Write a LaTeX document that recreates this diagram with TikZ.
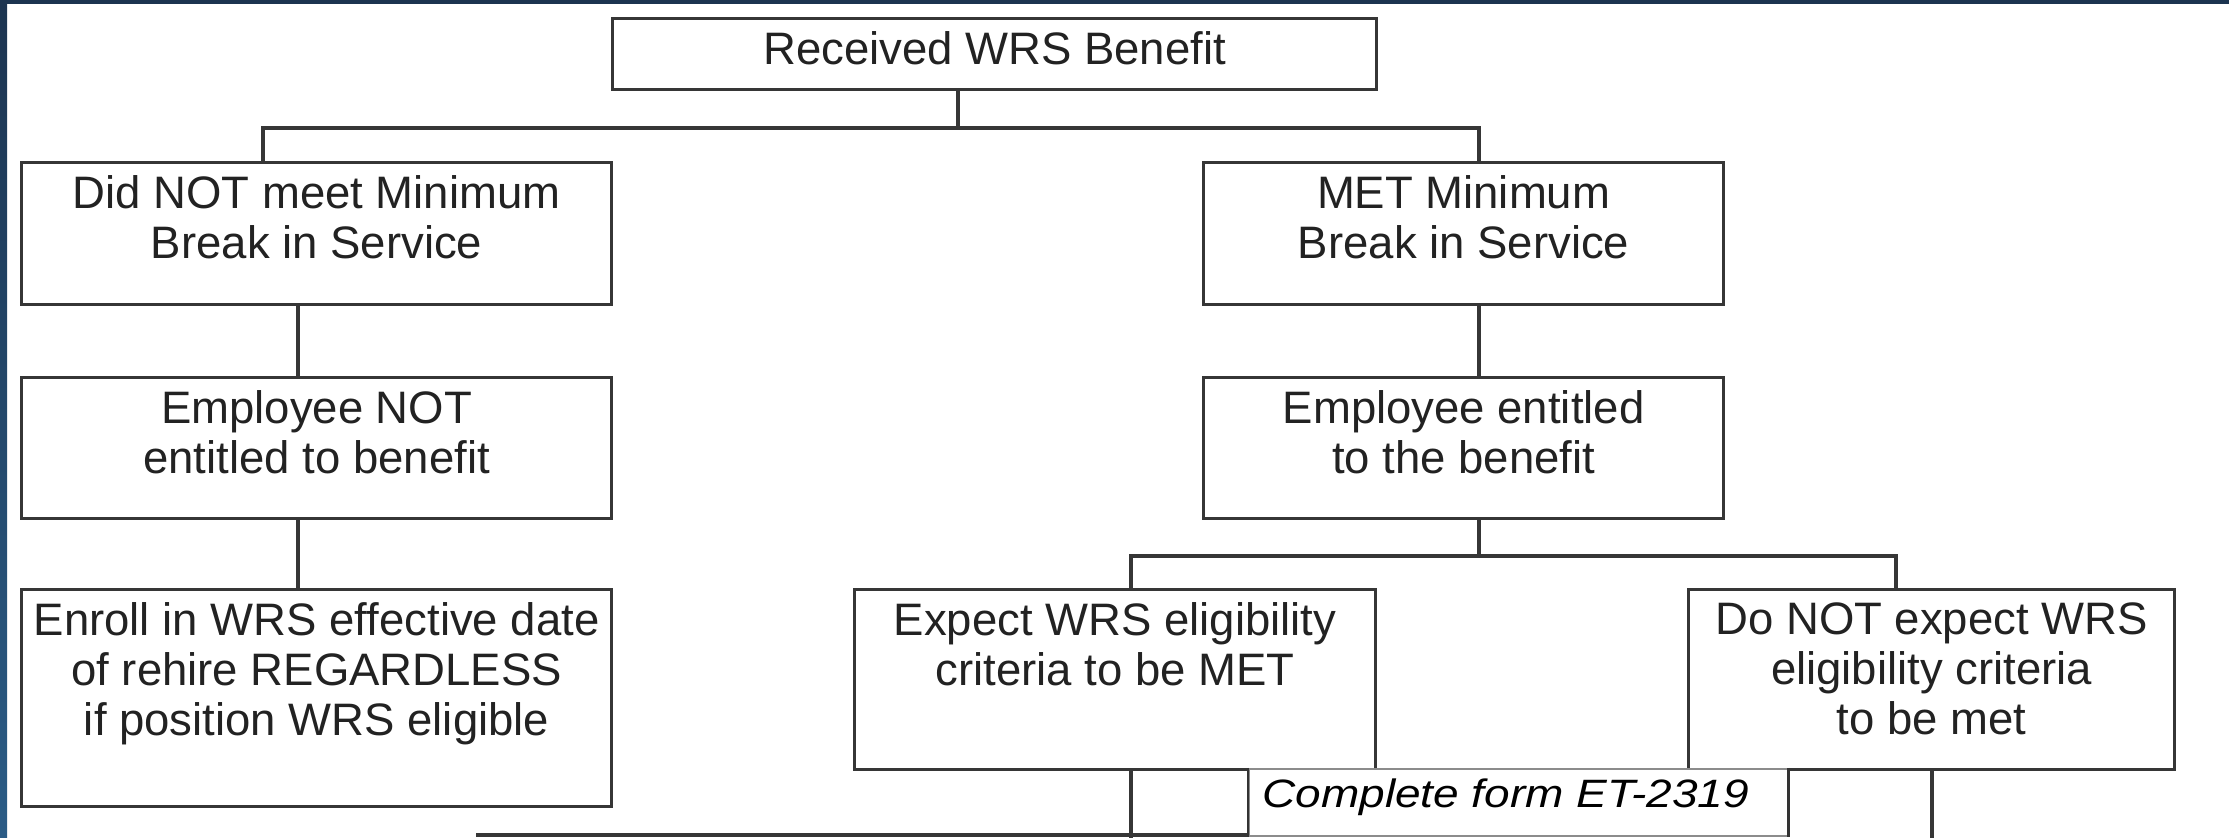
\documentclass[tikz,border=0pt]{standalone}
\usepackage{fontspec}
\setmainfont{Liberation Sans}
\definecolor{navy}{HTML}{1C3450}
\definecolor{navylight}{HTML}{2B5C86}
\definecolor{linec}{HTML}{363636}
\definecolor{txtc}{HTML}{222222}
\begin{document}
\begin{tikzpicture}[x=0.5pt,y=-0.5pt,
  boxst/.style={draw=linec, line width=1.6pt, fill=white, inner sep=0pt, anchor=north west, shape=rectangle},
  txt/.style={inner sep=0pt, align=center, anchor=north, text=txtc, font=\fontsize{22.75pt}{25pt}\selectfont},
  conn/.style={draw=linec, line width=1.6pt}]
\useasboundingbox (0,0) rectangle (2229,838);
\fill[white] (0,0) rectangle (2229,838);
\fill[navy] (0,0) rectangle (2229,4);
\shade[top color=navy, bottom color=navylight] (0,0) rectangle (7,838);

% boxes
\node[boxst, minimum width=382pt, minimum height=35.5pt] (top) at (611,17) {};
\node[boxst, minimum width=295pt, minimum height=71pt] (l1) at (20,161) {};
\node[boxst, minimum width=260pt, minimum height=71pt] (r1) at (1202,161) {};
\node[boxst, minimum width=295pt, minimum height=70.5pt] (l2) at (20,376) {};
\node[boxst, minimum width=260pt, minimum height=70.5pt] (r2) at (1202,376) {};
\node[boxst, minimum width=295pt, minimum height=108.5pt] (l3) at (20,588) {};
\node[boxst, minimum width=260.5pt, minimum height=90pt] (e) at (853,588) {};
\node[boxst, minimum width=243pt, minimum height=90pt] (d) at (1687,588) {};

% texts
\node[txt] (topt) at ([yshift=-7pt]top.north) {Received WRS Benefit};
\node[txt] (l1t) at ([yshift=-7pt]l1.north) {Did NOT meet Minimum\\Break in Service};
\node[txt] (r1t) at ([yshift=-7pt]r1.north) {MET Minimum\\Break in Service};
\node[txt] (l2t) at ([yshift=-7pt]l2.north) {Employee NOT\\entitled to benefit};
\node[txt] (r2t) at ([yshift=-7pt]r2.north) {Employee entitled\\to the benefit};
\node[txt] (l3t) at ([yshift=-7pt]l3.north) {Enroll in WRS effective date\\of rehire REGARDLESS\\if position WRS eligible};
\node[txt] (et) at ([yshift=-7pt]e.north) {Expect WRS eligibility\\criteria to be MET};
\node[txt] (dt) at ([yshift=-7pt]d.north) {Do NOT expect WRS\\eligibility criteria\\to be met};

% connector coordinates
\coordinate (jt) at (958,128);
\coordinate (jl) at (263,128);
\coordinate (jr) at (1479,128);
\coordinate (xl) at (298,0);
\coordinate (j2) at (1479,556);
\coordinate (j2l) at (1131,556);
\coordinate (j2r) at (1896,556);
\coordinate (be) at (1131,838);
\coordinate (bd) at (1932,838);
\coordinate (bl) at (476,835);

\draw[conn] (top.south -| jt) -- (jt);
\draw[conn] (l1.north -| jl) -- (jl) -- (jr) -- (r1.north -| jr);
\draw[conn] (l1.south -| xl) -- (l2.north -| xl);
\draw[conn] (l2.south -| xl) -- (l3.north -| xl);
\draw[conn] (r1.south -| jr) -- (r2.north -| jr);
\draw[conn] (r2.south -| j2) -- (j2);
\draw[conn] (e.north -| j2l) -- (j2l) -- (j2r) -- (d.north -| j2r);
\draw[conn] (e.south -| be) -- (be);
\draw[conn] (d.south -| bd) -- (bd);

% form note
\node[boxst, draw=black!45, line width=0.8pt, minimum width=269.5pt, minimum height=33.5pt] (f) at (1248,768) {};
\draw[conn] (bl) -- (f.west |- bl);
\draw[draw=black!80, line width=1.4pt] (f.north east) -- (f.south east);
\draw[draw=black!80, line width=0.8pt] (f.north west) -- (f.south west);
\node[inner sep=0pt, anchor=base west, text=black, font=\fontsize{23pt}{25pt}\selectfont\itshape] (ft) at (1262,808) {\scalebox{1}[0.86]{Complete form ET-2319}};
\end{tikzpicture}
\end{document}
